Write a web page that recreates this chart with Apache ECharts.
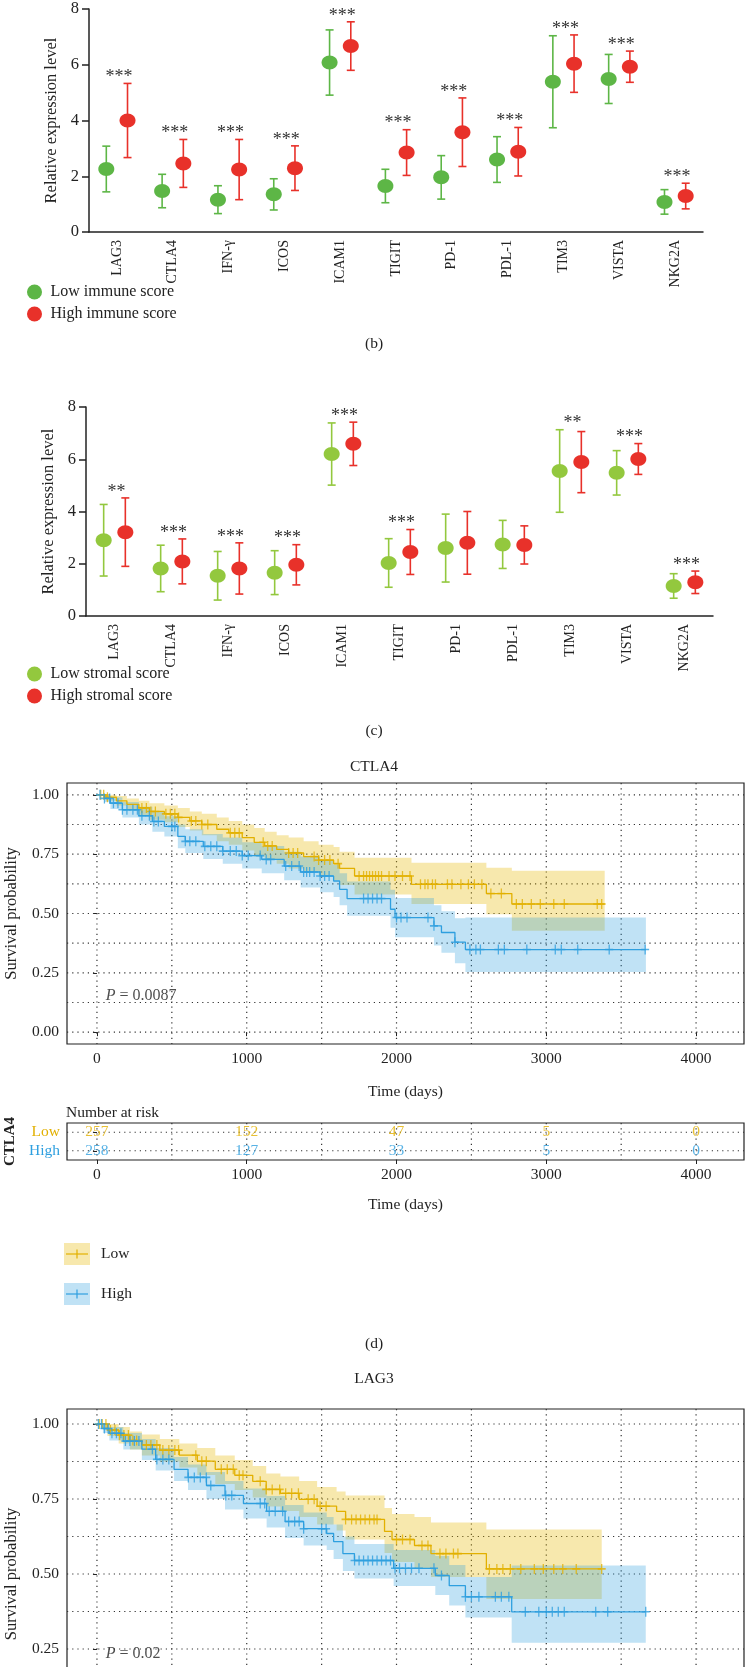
<!DOCTYPE html>
<html>
<head>
<meta charset="utf-8">
<script src="https://cdn.jsdelivr.net/npm/echarts@6/dist/echarts.min.js"></script>
<style>
  html, body { margin: 0; padding: 0; background: #fff; }
  #main { width: 748px; height: 1667px; }
</style>
</head>
<body>
<div id="main"></div>
<script>
var FONT = '"Liberation Serif", "DejaVu Serif", serif';
var INK = '#222';

// ---- (b) / (c) expression panels: mean and SD per gene
var genes = ['LAG3', 'CTLA4', 'IFN-γ', 'ICOS', 'ICAM1', 'TIGIT', 'PD-1', 'PDL-1', 'TIM3', 'VISTA', 'NKG2A'];

var immuneLowMean = [2.26, 1.47, 1.16, 1.35, 6.08, 1.65, 1.96, 2.60, 5.39, 5.49, 1.08];
var immuneLowSd = [0.82, 0.60, 0.50, 0.56, 1.17, 0.60, 0.78, 0.82, 1.65, 0.88, 0.44];
var immuneHighMean = [4.00, 2.46, 2.24, 2.29, 6.67, 2.85, 3.58, 2.88, 6.04, 5.93, 1.29];
var immuneHighSd = [1.33, 0.86, 1.08, 0.80, 0.87, 0.82, 1.23, 0.87, 1.03, 0.56, 0.46];
var immuneSig = ['***', '***', '***', '***', '***', '***', '***', '***', '***', '***', '***'];

var stromalLowMean = [2.90, 1.82, 1.54, 1.66, 6.20, 2.03, 2.60, 2.74, 5.55, 5.48, 1.15];
var stromalLowSd = [1.37, 0.89, 0.93, 0.84, 1.19, 0.93, 1.30, 0.92, 1.58, 0.85, 0.47];
var stromalHighMean = [3.21, 2.09, 1.82, 1.96, 6.59, 2.45, 2.80, 2.72, 5.89, 6.01, 1.29];
var stromalHighSd = [1.31, 0.86, 0.98, 0.77, 0.83, 0.86, 1.20, 0.73, 1.17, 0.59, 0.43];
var stromalSig = ['**', '***', '***', '***', '***', '***', '', '', '**', '***', '***'];

// ---- (d) survival panels
var kmTicks = [0, 1000, 2000, 3000, 4000];
var kmYTicks = [0, 0.25, 0.5, 0.75, 1];
var kmXGrid = [0, 500, 1000, 1500, 2000, 2500, 3000, 3500, 4000];
var kmYGrid = [0, 0.125, 0.25, 0.375, 0.5, 0.625, 0.75, 0.875, 1];

// CTLA4 low group: step times, survival, CI upper, CI lower, censored times
var ctlaLowT = [0, 60, 130, 200, 280, 350, 450, 540, 620, 700, 800, 880, 970, 1050, 1120, 1200, 1280, 1380, 1480, 1580, 1620, 1720, 2100, 2600, 2770, 3390];
var ctlaLowS = [1, 0.99, 0.975, 0.96, 0.945, 0.93, 0.92, 0.905, 0.89, 0.875, 0.855, 0.84, 0.82, 0.80, 0.785, 0.77, 0.755, 0.74, 0.725, 0.71, 0.69, 0.658, 0.623, 0.584, 0.54, 0.54];
var ctlaLowUp = [1, 1, 0.995, 0.985, 0.975, 0.965, 0.955, 0.945, 0.93, 0.92, 0.905, 0.89, 0.875, 0.86, 0.845, 0.83, 0.82, 0.805, 0.79, 0.78, 0.76, 0.735, 0.714, 0.693, 0.68, 0.68];
var ctlaLowLo = [1, 0.975, 0.955, 0.935, 0.915, 0.895, 0.885, 0.865, 0.85, 0.83, 0.805, 0.79, 0.765, 0.74, 0.725, 0.71, 0.69, 0.675, 0.66, 0.64, 0.62, 0.58, 0.54, 0.497, 0.427, 0.427];
var ctlaLowCens = [25, 45, 70, 300, 330, 360, 390, 460, 490, 520, 545, 630, 660, 700, 740, 890, 920, 950, 1110, 1140, 1170, 1280, 1310, 1340, 1450, 1480, 1520, 1555, 1610, 1750, 1780, 1800, 1820, 1840, 1860, 1880, 1900, 1950, 1990, 2040, 2090, 2160, 2190, 2210, 2240, 2260, 2340, 2370, 2430, 2480, 2520, 2570, 2630, 2700, 2800, 2840, 2900, 2960, 3050, 3120, 3340, 3370];

var ctlaHighT = [0, 50, 90, 170, 280, 370, 450, 540, 590, 710, 840, 970, 1100, 1250, 1360, 1490, 1580, 1620, 1670, 1960, 1990, 2250, 2300, 2390, 2460, 3665];
var ctlaHighS = [1, 0.985, 0.965, 0.937, 0.912, 0.888, 0.867, 0.825, 0.804, 0.783, 0.763, 0.744, 0.728, 0.70, 0.675, 0.658, 0.637, 0.602, 0.563, 0.518, 0.483, 0.448, 0.42, 0.379, 0.348, 0.348];
var ctlaHighUp = [1, 1, 0.99, 0.97, 0.95, 0.93, 0.91, 0.875, 0.855, 0.835, 0.82, 0.80, 0.785, 0.76, 0.74, 0.725, 0.705, 0.67, 0.635, 0.60, 0.565, 0.535, 0.51, 0.48, 0.483, 0.483];
var ctlaHighLo = [1, 0.97, 0.94, 0.905, 0.875, 0.845, 0.825, 0.775, 0.755, 0.73, 0.71, 0.69, 0.67, 0.64, 0.61, 0.59, 0.57, 0.535, 0.49, 0.44, 0.40, 0.365, 0.335, 0.29, 0.253, 0.253];
var ctlaHighCens = [20, 50, 85, 110, 140, 170, 200, 240, 270, 300, 350, 380, 410, 500, 520, 590, 620, 660, 720, 760, 800, 840, 890, 930, 970, 1010, 1090, 1130, 1160, 1260, 1300, 1350, 1380, 1400, 1420, 1450, 1490, 1520, 1550, 1780, 1810, 1840, 1870, 1900, 2000, 2030, 2070, 2210, 2250, 2390, 2490, 2530, 2560, 2680, 2720, 2870, 3060, 3100, 3210, 3420, 3660];

// number at risk (CTLA4)
var riskTimes = [0, 1000, 2000, 3000, 4000];
var riskLow = [257, 152, 47, 5, 0];
var riskHigh = [258, 127, 33, 5, 0];

// LAG3
var lagLowT = [0, 70, 145, 220, 300, 420, 550, 670, 790, 920, 1040, 1130, 1225, 1350, 1470, 1600, 1660, 1920, 1970, 2120, 2230, 2600, 3370];
var lagLowS = [1, 0.98, 0.963, 0.945, 0.93, 0.913, 0.896, 0.876, 0.849, 0.829, 0.809, 0.782, 0.769, 0.749, 0.726, 0.709, 0.682, 0.642, 0.615, 0.595, 0.568, 0.517, 0.517];
var lagLowUp = [1, 1, 0.99, 0.975, 0.965, 0.95, 0.935, 0.92, 0.895, 0.88, 0.86, 0.835, 0.825, 0.81, 0.79, 0.775, 0.762, 0.72, 0.70, 0.69, 0.672, 0.648, 0.648];
var lagLowLo = [1, 0.96, 0.935, 0.915, 0.895, 0.875, 0.855, 0.83, 0.80, 0.78, 0.755, 0.725, 0.71, 0.69, 0.665, 0.645, 0.615, 0.57, 0.54, 0.52, 0.49, 0.417, 0.417];
var lagLowCens = [15, 35, 60, 90, 120, 150, 180, 210, 240, 265, 330, 360, 400, 440, 480, 520, 545, 660, 700, 730, 830, 870, 910, 950, 975, 1090, 1130, 1170, 1220, 1260, 1300, 1345, 1410, 1450, 1490, 1530, 1660, 1700, 1730, 1760, 1790, 1820, 1850, 1870, 2000, 2040, 2090, 2170, 2210, 2290, 2330, 2380, 2410, 2620, 2670, 2710, 2760, 2830, 2920, 2980, 3050, 3110, 3200, 3370];

var lagHighT = [0, 40, 83, 176, 300, 392, 515, 608, 731, 855, 978, 1133, 1256, 1380, 1534, 1580, 1642, 1719, 1981, 2259, 2352, 2460, 2769, 3664];
var lagHighS = [1, 0.985, 0.969, 0.943, 0.916, 0.882, 0.849, 0.822, 0.795, 0.762, 0.735, 0.709, 0.675, 0.651, 0.635, 0.608, 0.568, 0.545, 0.519, 0.495, 0.461, 0.424, 0.374, 0.374];
var lagHighUp = [1, 1, 0.99, 0.97, 0.95, 0.92, 0.89, 0.865, 0.84, 0.81, 0.785, 0.76, 0.73, 0.705, 0.69, 0.665, 0.625, 0.60, 0.58, 0.56, 0.53, 0.49, 0.528, 0.528];
var lagHighLo = [1, 0.97, 0.945, 0.915, 0.88, 0.845, 0.81, 0.78, 0.75, 0.715, 0.685, 0.655, 0.62, 0.595, 0.58, 0.55, 0.51, 0.485, 0.46, 0.43, 0.395, 0.355, 0.271, 0.271];
var lagHighCens = [10, 30, 50, 75, 100, 130, 160, 190, 220, 250, 280, 370, 400, 440, 480, 610, 650, 690, 730, 760, 860, 900, 1090, 1120, 1150, 1190, 1240, 1280, 1320, 1350, 1380, 1500, 1530, 1720, 1750, 1780, 1810, 1840, 1870, 1900, 1930, 1960, 1990, 2020, 2060, 2100, 2150, 2250, 2300, 2460, 2500, 2550, 2660, 2700, 2750, 2860, 2950, 3000, 3040, 3080, 3120, 3330, 3410, 3664];

var LOW_C = '#E2B000', HIGH_C = '#2E9FDF';
var LOW_F = 'rgba(231,184,0,0.32)', HIGH_F = 'rgba(46,159,223,0.30)';
var PLUS = 'path://M0,4.2H4.2V0H5.8V4.2H10V5.8H5.8V10H4.2V5.8H0Z';
var CLEAR = 'rgba(0,0,0,0)';

function survAt(times, surv, t) {
  var v = surv[0];
  for (var i = 0; i < times.length; i++) {
    if (times[i] <= t) v = surv[i];
  }
  return v;
}

// mean dot + SD error bar, shifted within the category band
function dotSeries(name, color, means, sds, shift, g) {
  return {
    type: 'custom', name: name, xAxisIndex: g, yAxisIndex: g, z: 3,
    itemStyle: { color: color },
    encode: { x: 0, y: 1 },
    data: means.map(function (m, i) { return [i, m, sds[i]]; }),
    renderItem: function (params, api) {
      var i = api.value(0), m = api.value(1), sd = api.value(2);
      var band = api.size([1, 0])[0];
      var c = api.coord([i, m]);
      var yHi = api.coord([i, m + sd])[1];
      var yLo = api.coord([i, m - sd])[1];
      var x = c[0] + shift * band;
      var st = { stroke: color, lineWidth: 1.6 };
      return {
        type: 'group',
        children: [
          { type: 'line', shape: { x1: x, y1: yHi, x2: x, y2: yLo }, style: st },
          { type: 'line', shape: { x1: x - 4, y1: yHi, x2: x + 4, y2: yHi }, style: st },
          { type: 'line', shape: { x1: x - 4, y1: yLo, x2: x + 4, y2: yLo }, style: st },
          { type: 'ellipse', shape: { cx: x, cy: c[1], rx: 8, ry: 7 }, style: { fill: color } }
        ]
      };
    }
  };
}

function starSeries(sig, lowM, lowS, highM, highS, g) {
  return {
    type: 'custom', xAxisIndex: g, yAxisIndex: g, z: 3, silent: true,
    data: sig.map(function (s, i) { return [i, Math.max(lowM[i] + lowS[i], highM[i] + highS[i])]; }),
    renderItem: function (params, api) {
      var p = api.coord([api.value(0), api.value(1)]);
      return {
        type: 'text', x: p[0] + 2, y: p[1] + 3,
        style: { text: sig[params.dataIndex], font: '18px ' + FONT, fill: '#333', align: 'center', verticalAlign: 'bottom' }
      };
    }
  };
}

function catX(g) {
  return {
    gridIndex: g, type: 'category', data: genes, boundaryGap: true,
    axisLine: { lineStyle: { color: INK, width: 1.5 } },
    axisTick: { alignWithLabel: true, length: 7, lineStyle: { color: INK, width: 1.5 } },
    axisLabel: { rotate: 90, interval: 0, margin: 8, fontSize: 14, fontFamily: FONT, color: INK }
  };
}

function exprY(g) {
  return {
    gridIndex: g, type: 'value', min: 0, max: 8, interval: 2,
    name: 'Relative expression level', nameLocation: 'middle', nameGap: 29,
    nameTextStyle: { fontSize: 16.5, fontFamily: FONT, color: INK },
    axisLine: { show: true, lineStyle: { color: INK, width: 1.5 } },
    axisTick: { show: true, length: 7, lineStyle: { color: INK, width: 1.5 } },
    axisLabel: { fontSize: 16.5, fontFamily: FONT, color: INK, margin: 10 },
    splitLine: { show: false }
  };
}

function timeX(g, gap) {
  return {
    gridIndex: g, type: 'value', min: -200, max: 4320,
    name: 'Time (days)', nameLocation: 'middle', nameGap: gap,
    nameTextStyle: { fontSize: 15.5, fontFamily: FONT, color: INK },
    axisLine: { show: false },
    axisTick: { show: true, customValues: kmTicks, length: 4, lineStyle: { color: INK } },
    axisLabel: {
      customValues: kmTicks, margin: 7, fontSize: 15.5, fontFamily: FONT, color: INK,
      formatter: function (v) { return String(v); }
    },
    splitLine: { show: false }
  };
}

function survY(g) {
  return {
    gridIndex: g, type: 'value', min: -0.05, max: 1.05,
    name: 'Survival probability', nameLocation: 'middle', nameGap: 47,
    nameTextStyle: { fontSize: 16.5, fontFamily: FONT, color: INK },
    axisLine: { show: false },
    axisTick: { show: true, customValues: kmYTicks, length: 4, lineStyle: { color: INK } },
    axisLabel: {
      customValues: kmYTicks, margin: 8, fontSize: 15.5, fontFamily: FONT, color: INK,
      formatter: function (v) { return v.toFixed(2); }
    },
    splitLine: { show: false }
  };
}

// dotted panel grid spanning the whole plot box
function dotGrid(g, xs, ys) {
  return {
    type: 'custom', xAxisIndex: g, yAxisIndex: g, z: 1, silent: true, data: [[0]],
    renderItem: function (params, api) {
      var cs = params.coordSys, kids = [];
      var st = { stroke: '#333', lineWidth: 1.2, lineDash: [1.2, 4] };
      xs.forEach(function (x) {
        var px = api.coord([x, ys[0]])[0];
        kids.push({ type: 'line', shape: { x1: px, y1: cs.y, x2: px, y2: cs.y + cs.height }, style: st });
      });
      ys.forEach(function (y) {
        var py = api.coord([xs[0], y])[1];
        kids.push({ type: 'line', shape: { x1: cs.x, y1: py, x2: cs.x + cs.width, y2: py }, style: st });
      });
      return { type: 'group', children: kids };
    }
  };
}

function bandSeries(g, times, lower, upper, fill) {
  return {
    type: 'custom', xAxisIndex: g, yAxisIndex: g, z: 2, silent: true, data: [[0]],
    renderItem: function (params, api) {
      var top = [], bot = [];
      for (var i = 0; i < times.length - 1; i++) {
        var t0 = times[i], t1 = times[i + 1];
        top.push(api.coord([t0, upper[i]]), api.coord([t1, upper[i]]));
        bot.unshift(api.coord([t1, lower[i]]), api.coord([t0, lower[i]]));
      }
      return { type: 'polygon', shape: { points: top.concat(bot) }, style: { fill: fill } };
    }
  };
}

function curveSeries(g, times, surv, color) {
  return {
    type: 'line', xAxisIndex: g, yAxisIndex: g, step: 'end', z: 4, silent: true,
    showSymbol: false, symbol: 'none',
    lineStyle: { color: color, width: 1.3 }, itemStyle: { color: color },
    data: times.map(function (t, i) { return [t, surv[i]]; })
  };
}

function censorSeries(g, times, surv, cens, color) {
  return {
    type: 'scatter', xAxisIndex: g, yAxisIndex: g, z: 5, silent: true,
    symbol: PLUS, symbolSize: [8, 10], itemStyle: { color: color },
    data: cens.map(function (t) { return [t, survAt(times, surv, t)]; })
  };
}

function pSeries(g, y, text) {
  return {
    type: 'scatter', xAxisIndex: g, yAxisIndex: g, z: 6, silent: true,
    symbolSize: 1, itemStyle: { color: CLEAR },
    data: [[55, y]],
    label: {
      show: true, position: 'right', distance: 0,
      formatter: '{i|P} = ' + text,
      fontSize: 16, fontFamily: FONT, color: INK,
      rich: { i: { fontStyle: 'italic', fontSize: 16, fontFamily: FONT, color: INK } }
    }
  };
}

function riskSeries(row, counts, color) {
  return {
    type: 'scatter', xAxisIndex: 3, yAxisIndex: 3, z: 5, silent: true,
    symbolSize: 1, itemStyle: { color: CLEAR },
    data: riskTimes.map(function (t, i) { return [t, row, counts[i]]; }),
    label: {
      show: true, position: 'inside',
      formatter: function (p) { return String(p.value[2]); },
      fontSize: 15.5, fontFamily: FONT, color: color
    }
  };
}

function caption(text, y) {
  return { type: 'text', x: 374, y: y, style: { text: text, font: '15.5px ' + FONT, fill: INK, align: 'center', verticalAlign: 'middle' } };
}

var chart = echarts.init(document.getElementById('main'), null, { renderer: 'canvas' });

var plain = { outerBoundsMode: 'none', containLabel: false };
var boxed = { outerBoundsMode: 'none', containLabel: false, show: true, borderColor: INK, borderWidth: 1.2, backgroundColor: 'transparent' };

var option = {
  backgroundColor: '#fff',
  animation: false,
  grid: [
    Object.assign({ left: 89, top: 9, width: 614, height: 223 }, plain),
    Object.assign({ left: 86, top: 407, width: 627, height: 209 }, plain),
    Object.assign({ left: 67, top: 783, width: 677, height: 261 }, boxed),
    Object.assign({ left: 67, top: 1123, width: 677, height: 37 }, boxed),
    Object.assign({ left: 67, top: 1409, width: 677, height: 330 }, boxed)
  ],
  xAxis: [
    catX(0), catX(1), timeX(2, 40), timeX(3, 37), timeX(4, 40)
  ],
  yAxis: [
    exprY(0), exprY(1), survY(2),
    {
      gridIndex: 3, type: 'category', data: ['High', 'Low'],
      name: 'CTLA4', nameLocation: 'middle', nameGap: 48,
      nameTextStyle: { fontSize: 15, fontWeight: 'bold', fontFamily: FONT, color: INK },
      axisLine: { show: false },
      axisTick: { show: true, alignWithLabel: true, length: 4, lineStyle: { color: INK } },
      axisLabel: {
        interval: 0, margin: 7, fontSize: 15.5, fontFamily: FONT,
        color: function (v) { return v === 'Low' ? LOW_C : HIGH_C; }
      },
      splitLine: { show: false }
    },
    survY(4)
  ],
  legend: [
    {
      orient: 'vertical', left: 22, top: 279, itemWidth: 16, itemHeight: 15, itemGap: 6,
      data: [{ name: 'Low immune score', icon: 'circle' }, { name: 'High immune score', icon: 'circle' }],
      textStyle: { fontSize: 16, fontFamily: FONT, color: INK, padding: [0, 0, 0, 3] }
    },
    {
      orient: 'vertical', left: 22, top: 661, itemWidth: 16, itemHeight: 15, itemGap: 6,
      data: [{ name: 'Low stromal score', icon: 'circle' }, { name: 'High stromal score', icon: 'circle' }],
      textStyle: { fontSize: 16, fontFamily: FONT, color: INK, padding: [0, 0, 0, 3] }
    }
  ],
  graphic: [
    caption('(b)', 344),
    caption('(c)', 731),
    caption('CTLA4', 767),
    { type: 'text', x: 66, y: 1113, style: { text: 'Number at risk', font: '15.5px ' + FONT, fill: INK, align: 'left', verticalAlign: 'middle' } },
    { type: 'rect', shape: { x: 64, y: 1243, width: 26, height: 22 }, style: { fill: LOW_F } },
    { type: 'line', shape: { x1: 66, y1: 1254, x2: 88, y2: 1254 }, style: { stroke: LOW_C, lineWidth: 1.2 } },
    { type: 'line', shape: { x1: 77, y1: 1249.5, x2: 77, y2: 1258.5 }, style: { stroke: LOW_C, lineWidth: 1.2 } },
    { type: 'text', x: 101, y: 1254, style: { text: 'Low', font: '15.5px ' + FONT, fill: INK, align: 'left', verticalAlign: 'middle' } },
    { type: 'rect', shape: { x: 64, y: 1283, width: 26, height: 22 }, style: { fill: HIGH_F } },
    { type: 'line', shape: { x1: 66, y1: 1294, x2: 88, y2: 1294 }, style: { stroke: HIGH_C, lineWidth: 1.2 } },
    { type: 'line', shape: { x1: 77, y1: 1289.5, x2: 77, y2: 1298.5 }, style: { stroke: HIGH_C, lineWidth: 1.2 } },
    { type: 'text', x: 101, y: 1294, style: { text: 'High', font: '15.5px ' + FONT, fill: INK, align: 'left', verticalAlign: 'middle' } },
    caption('(d)', 1344),
    caption('LAG3', 1379)
  ],
  series: [
    dotSeries('Low immune score', '#5DB646', immuneLowMean, immuneLowSd, -0.19, 0),
    dotSeries('High immune score', '#E8312A', immuneHighMean, immuneHighSd, 0.19, 0),
    starSeries(immuneSig, immuneLowMean, immuneLowSd, immuneHighMean, immuneHighSd, 0),

    dotSeries('Low stromal score', '#93C83E', stromalLowMean, stromalLowSd, -0.19, 1),
    dotSeries('High stromal score', '#E8312A', stromalHighMean, stromalHighSd, 0.19, 1),
    starSeries(stromalSig, stromalLowMean, stromalLowSd, stromalHighMean, stromalHighSd, 1),

    dotGrid(2, kmXGrid, kmYGrid),
    bandSeries(2, ctlaLowT, ctlaLowLo, ctlaLowUp, LOW_F),
    bandSeries(2, ctlaHighT, ctlaHighLo, ctlaHighUp, HIGH_F),
    curveSeries(2, ctlaLowT, ctlaLowS, LOW_C),
    curveSeries(2, ctlaHighT, ctlaHighS, HIGH_C),
    censorSeries(2, ctlaLowT, ctlaLowS, ctlaLowCens, LOW_C),
    censorSeries(2, ctlaHighT, ctlaHighS, ctlaHighCens, HIGH_C),
    pSeries(2, 0.155, '0.0087'),

    dotGrid(3, kmXGrid, [0, 1]),
    riskSeries(1, riskLow, LOW_C),
    riskSeries(0, riskHigh, HIGH_C),

    dotGrid(4, kmXGrid, kmYGrid),
    bandSeries(4, lagLowT, lagLowLo, lagLowUp, LOW_F),
    bandSeries(4, lagHighT, lagHighLo, lagHighUp, HIGH_F),
    curveSeries(4, lagLowT, lagLowS, LOW_C),
    curveSeries(4, lagHighT, lagHighS, HIGH_C),
    censorSeries(4, lagLowT, lagLowS, lagLowCens, LOW_C),
    censorSeries(4, lagHighT, lagHighS, lagHighCens, HIGH_C),
    pSeries(4, 0.235, '0.02')
  ]
};

chart.setOption(option);
</script>
</body>
</html>
